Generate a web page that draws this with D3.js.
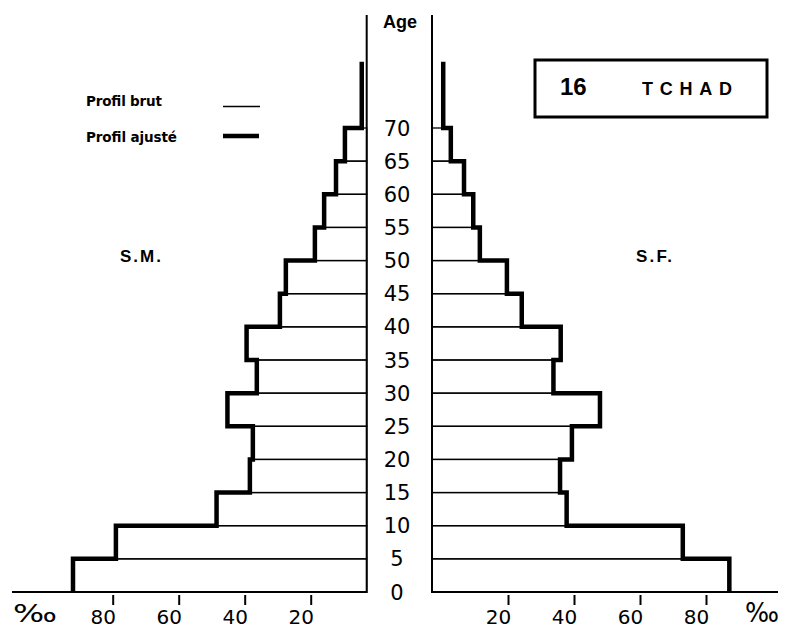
<!DOCTYPE html>
<html><head><meta charset="utf-8">
<script src="https://cdn.jsdelivr.net/npm/d3@7/dist/d3.min.js"></script>
<style>
html,body{margin:0;padding:0;background:#fff;}
svg{display:block;}
</style>
</head><body>
<svg id="chart" width="789" height="630"></svg>
<script>
// ---- data ----
const ageStarts = [0,5,10,15,20,25,30,35,40,45,50,55,60,65,70];
const ageLabels = ["0","5","10","15","20","25","30","35","40","45","50","55","60","65","70"];
const maleValues   = [89.0,76.0,45.5,35.4,34.5,42.2,33.3,36.4,26.3,24.5,15.7,12.9,9.3,6.6,1.5];
const femaleValues = [90.1,76.0,40.8,38.8,42.4,50.9,36.8,39.0,27.2,22.7,14.5,12.5,9.7,5.7,3.4];
const tickValues = [20,40,60,80];
const tickLabels = ["20","40","60","80"];
const legendLabels = ["Profil brut","Profil ajusté"];
const titleNumber = "16";
const titleCountry = "TCHAD";
const sexLabels = ["S.M.","S.F."];
const unitLabel = "‰";
const ageTitle = "Age";

// ---- layout ----
const svg = d3.select("#chart");
const axisXM = 366.7, axisXF = 432, pxPerUnit = 3.3;
const baseY = 592;
const xM = d3.scaleLinear().domain([0,100]).range([axisXM, axisXM - 100*pxPerUnit]);
const xF = d3.scaleLinear().domain([0,100]).range([axisXF, axisXF + 100*pxPerUnit]);
const y = d3.scaleLinear().domain([0,70]).range([baseY,128]);
const topAge = 80;
const thin = 1.3, thick = 4.5;

// vertical axis lines
svg.append("line").attr("x1",axisXM).attr("x2",axisXM).attr("y1",15).attr("y2",baseY+1)
  .attr("stroke","#000").attr("stroke-width",2);
svg.append("line").attr("x1",axisXF).attr("x2",axisXF).attr("y1",15).attr("y2",baseY+1)
  .attr("stroke","#000").attr("stroke-width",2);

// baselines
svg.append("line").attr("x1",12).attr("x2",axisXM).attr("y1",baseY).attr("y2",baseY)
  .attr("stroke","#000").attr("stroke-width",2.2);
svg.append("line").attr("x1",axisXF).attr("x2",778).attr("y1",baseY).attr("y2",baseY)
  .attr("stroke","#000").attr("stroke-width",2.2);

// thin bars (profil brut)
function drawBars(values, scale, axisX, side){
  const data = ageStarts.map((a,i)=>({a, v:values[i], i})).filter(d=>d.a<70);
  svg.append("g").selectAll("rect").data(data).join("rect")
    .attr("x", d=> side<0 ? scale(d.v) : axisX)
    .attr("width", d=> Math.abs(scale(d.v)-axisX))
    .attr("y", d=> y(d.a+5))
    .attr("height", d=> y(d.a)-y(d.a+5))
    .attr("fill","none").attr("stroke","#000").attr("stroke-width",thin);
}
drawBars(maleValues, xM, axisXM, -1);
drawBars(femaleValues, xF, axisXF, 1);

// thick step outline (profil ajusté)
function stepPath(values, scale){
  const p = d3.path();
  const n = values.length;
  p.moveTo(scale(values[n-1]), y(topAge));
  for(let i=n-1;i>=0;i--){
    p.lineTo(scale(values[i]), y(ageStarts[i]));
    if(i>0) p.lineTo(scale(values[i-1]), y(ageStarts[i]));
  }
  return p.toString();
}
svg.append("path").attr("d",stepPath(maleValues,xM)).attr("fill","none")
  .attr("stroke","#000").attr("stroke-width",thick).attr("stroke-linejoin","miter");
svg.append("path").attr("d",stepPath(femaleValues,xF)).attr("fill","none")
  .attr("stroke","#000").attr("stroke-width",thick).attr("stroke-linejoin","miter");

// bottom axes
const tickShift = 10;
function drawAxis(scale){
  const g = svg.append("g").attr("transform",`translate(0,${baseY+1})`)
    .call(d3.axisBottom(scale).tickValues(tickValues)
      .tickFormat((d,i)=>tickLabels[i]).tickSize(12).tickPadding(5));
  g.select(".domain").remove();
  g.selectAll(".tick line").attr("x1",tickShift).attr("x2",tickShift)
    .attr("y1",2).attr("stroke","#000").attr("stroke-width",2);
  g.selectAll(".tick text").attr("font-family","DejaVu Sans").attr("font-size",20)
    .attr("fill","#000");
}
drawAxis(xM);
drawAxis(xF);

// per mille signs
svg.append("text").attr("x",13).attr("y",622).text(unitLabel)
  .attr("font-family","DejaVu Sans").attr("font-size",24)
  .attr("textLength",44).attr("lengthAdjust","spacingAndGlyphs");
svg.append("text").attr("x",745).attr("y",622).text(unitLabel)
  .attr("font-family","DejaVu Sans").attr("font-size",26)
  .attr("textLength",34).attr("lengthAdjust","spacingAndGlyphs");

// age labels
svg.append("g").selectAll("text").data(ageStarts).join("text")
  .attr("x",397).attr("y",d=>y(d)).attr("dy","0.36em")
  .attr("text-anchor","middle").attr("font-family","DejaVu Sans").attr("font-size",21)
  .text((d,i)=>ageLabels[i]);

svg.append("text").attr("x",400).attr("y",28).attr("text-anchor","middle")
  .attr("font-family","Liberation Sans").attr("font-weight","bold").attr("font-size",18)
  .text(ageTitle);

// legend
svg.append("text").attr("x",86).attr("y",106).text(legendLabels[0])
  .attr("font-family","DejaVu Sans").attr("font-weight","bold").attr("font-size",13.5)
  .attr("textLength",76);
svg.append("text").attr("x",86).attr("y",142).text(legendLabels[1])
  .attr("font-family","DejaVu Sans").attr("font-weight","bold").attr("font-size",13.5)
  .attr("textLength",91);
svg.append("line").attr("x1",223).attr("x2",260).attr("y1",106.5).attr("y2",106.5)
  .attr("stroke","#000").attr("stroke-width",1.6);
svg.append("line").attr("x1",223).attr("x2",259).attr("y1",136).attr("y2",136)
  .attr("stroke","#000").attr("stroke-width",4.5);

// sex labels
svg.append("text").attr("x",120).attr("y",262).text(sexLabels[0])
  .attr("font-family","Liberation Sans").attr("font-weight","bold").attr("font-size",17)
  .attr("textLength",41);
svg.append("text").attr("x",636).attr("y",262).text(sexLabels[1])
  .attr("font-family","Liberation Sans").attr("font-weight","bold").attr("font-size",17)
  .attr("textLength",36);

// title box
svg.append("rect").attr("x",535).attr("y",60).attr("width",232).attr("height",57)
  .attr("fill","none").attr("stroke","#000").attr("stroke-width",3);
svg.append("text").attr("x",560).attr("y",95).text(titleNumber)
  .attr("font-family","Liberation Sans").attr("font-weight","bold").attr("font-size",24);
svg.append("text").attr("x",642).attr("y",95).text(titleCountry)
  .attr("font-family","Liberation Sans").attr("font-weight","bold").attr("font-size",18)
  .attr("textLength",90);
</script>
</body></html>
